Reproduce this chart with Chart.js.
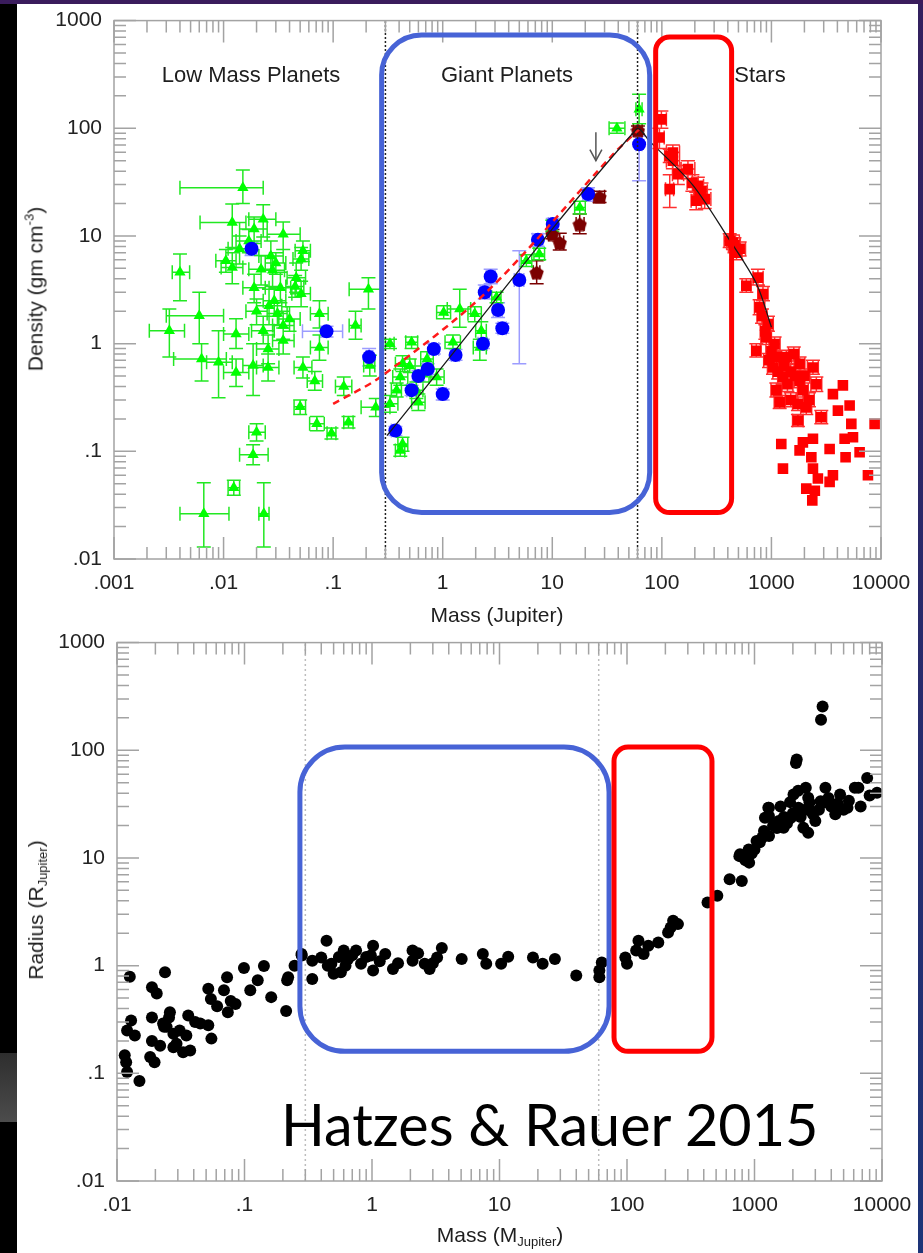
<!DOCTYPE html>
<html lang="en">
<head>
<meta charset="UTF-8" />
<title>Density and radius versus mass</title>
<script src="https://cdn.jsdelivr.net/npm/chart.js@4.4.1/dist/chart.umd.min.js"></script>
<style>
  body { margin: 0; width: 923px; height: 1253px; position: relative; overflow: hidden; background: #fff;
         font-family: 'Liberation Sans', Arial, sans-serif; color: #1e1e1e; }
  .band { position: absolute; }
  canvas { position: absolute; }
  .txt { position: absolute; white-space: nowrap; line-height: 1; transform: translate(-50%, -50%); }
  .rot { transform: translate(-50%, -50%) rotate(-90deg); }
  sub { font-size: 13px; vertical-align: -4px; }
  sup { font-size: 13px; vertical-align: 9px; }
  #credit { position: absolute; left: 281px; top: 1095px; font-family: Lato, 'Open Sans', sans-serif;
            font-size: 57.5px; line-height: 57px; color: #000; white-space: nowrap; }
</style>
</head>
<body>
  <div class="band" style="left:0;top:0;width:923px;height:4px;background:#3a1c5c"></div>
  <div class="band" style="left:0;top:4px;width:17px;height:1249px;background:#000"></div>
  <div class="band" style="left:0;top:1053px;width:17px;height:69px;background:linear-gradient(#2e2e2e,#4c4c4c)"></div>
  <div class="band" style="left:918px;top:4px;width:5px;height:1249px;background:linear-gradient(#33205e,#1d3478)"></div>

  <canvas id="topChart" width="906" height="630" style="left:17px;top:-4px"></canvas>
  <canvas id="botChart" width="907" height="635" style="left:17px;top:618px"></canvas>

  <div class="txt" style="left:251px;top:75px;font-size:22px">Low Mass Planets</div>
  <div class="txt" style="left:507px;top:75px;font-size:22px">Giant Planets</div>
  <div class="txt" style="left:760px;top:75px;font-size:22px">Stars</div>
  <div class="txt" style="left:497px;top:614px;font-size:21px">Mass (Jupiter)</div>
  <div class="txt rot" style="left:34px;top:289px;font-size:21px">Density (gm cm<sup>-3</sup>)</div>
  <div class="txt" style="left:500px;top:1236px;font-size:21px">Mass (M<sub>Jupiter</sub>)</div>
  <div class="txt rot" style="left:37px;top:910px;font-size:21px">Radius (R<sub>Jupiter</sub>)</div>
  <div id="credit">Hatzes &amp; Rauer 2015</div>

<script>
  // ---- axes ----
  const topMassRange = [0.001, 10000];
  const densityRange = [0.01, 1000];
  const botMassRange = [0.01, 10000];
  const radiusRange = [0.01, 1000];
  const topMassTicks = ['.001', '.01', '.1', '1', '10', '100', '1000', '10000'];
  const densityTicks = ['.01', '.1', '1', '10', '100', '1000'];
  const botMassTicks = ['.01', '.1', '1', '10', '100', '1000', '10000'];
  const radiusTicks = ['.01', '.1', '1', '10', '100', '1000'];

  // planet / brown dwarf / star boundaries (Jupiter masses)
  const boundaryMass = [0.3, 60];

  // ---- top panel: density vs mass  [x, y, xLo, xHi, yLo, yHi] ----
  const greenPts = [
    [0.015, 28, 0.004, 0.023, 20, 41], [0.012, 13.3, 0.0061, 0.016, 7.8, 19.8],
    [0.023, 14.3, 0.017, 0.03, 9.8, 19.5], [0.019, 11.6, 0.014, 0.025, 8.5, 15],
    [0.035, 10.4, 0.025, 0.05, 7.5, 13.5], [0.014, 7.6, 0.011, 0.018, 5.5, 10],
    [0.0105, 5.9, 0.0085, 0.013, 4.6, 7.5], [0.012, 5.1, 0.0095, 0.015, 3.6, 7],
    [0.027, 6.5, 0.021, 0.035, 4.8, 9], [0.053, 7.3, 0.045, 0.062, 5.8, 9],
    [0.051, 6.1, 0.043, 0.06, 4.8, 7.8], [0.022, 4.9, 0.017, 0.028, 3.5, 6.6],
    [0.028, 4.8, 0.022, 0.036, 3.4, 6.5], [0.046, 4.1, 0.038, 0.056, 3, 5.6],
    [0.004, 4.6, 0.0034, 0.0049, 2.5, 6.8], [0.019, 3.3, 0.015, 0.024, 2.4, 4.4],
    [0.033, 3.3, 0.026, 0.041, 2.4, 4.6], [0.051, 2.9, 0.042, 0.062, 2.2, 3.8],
    [0.029, 2.5, 0.023, 0.037, 1.8, 3.4], [0.026, 2.25, 0.02, 0.034, 1.5, 3.2],
    [0.075, 1.89, 0.062, 0.09, 1.4, 2.5], [0.006, 1.82, 0.003, 0.01, 1, 3],
    [0.0032, 1.32, 0.0021, 0.0044, 0.75, 2.1], [0.013, 1.23, 0.01, 0.017, 0.9, 1.7],
    [0.023, 1.32, 0.018, 0.029, 1, 1.8], [0.035, 1.47, 0.028, 0.044, 1.1, 2],
    [0.04, 1.69, 0.032, 0.05, 1.3, 2.2], [0.035, 1.07, 0.028, 0.044, 0.8, 1.4],
    [0.0255, 0.89, 0.02, 0.032, 0.65, 1.2], [0.16, 1.47, 0.14, 0.18, 1.1, 2],
    [0.21, 3.2, 0.14, 0.285, 2.1, 4.1], [0.216, 0.625, 0.19, 0.24, 0.5, 0.78],
    [0.075, 0.92, 0.062, 0.09, 0.7, 1.2], [0.0063, 0.72, 0.0035, 0.0106, 0.45, 1],
    [0.009, 0.67, 0.007, 0.012, 0.315, 1.32], [0.013, 0.54, 0.01, 0.017, 0.4, 0.72],
    [0.0186, 0.625, 0.015, 0.023, 0.33, 1], [0.0255, 0.6, 0.02, 0.032, 0.45, 0.8],
    [0.053, 0.6, 0.044, 0.064, 0.48, 0.75], [0.068, 0.45, 0.058, 0.08, 0.37, 0.55],
    [0.125, 0.4, 0.105, 0.148, 0.33, 0.49], [0.05, 0.26, 0.044, 0.056, 0.22, 0.3],
    [0.071, 0.18, 0.061, 0.083, 0.155, 0.21], [0.0965, 0.147, 0.088, 0.106, 0.13, 0.165],
    [0.138, 0.186, 0.125, 0.152, 0.165, 0.21], [0.245, 0.256, 0.18, 0.33, 0.21, 0.31],
    [0.02, 0.15, 0.017, 0.024, 0.125, 0.18], [0.0186, 0.093, 0.014, 0.0255, 0.075, 0.115],
    [0.0124, 0.046, 0.011, 0.014, 0.039, 0.054], [0.0066, 0.0263, 0.004, 0.0112, 0.0129, 0.051],
    [0.0233, 0.0263, 0.021, 0.026, 0.0129, 0.051], [0.02, 2.0, 0.016, 0.025, 1.5, 2.6],
    [0.031, 1.9, 0.025, 0.038, 1.5, 2.4], [0.017, 9.0, 0.013, 0.022, 7, 11.5],
    [0.045, 3.4, 0.037, 0.054, 2.7, 4.3], [0.03, 5.6, 0.024, 0.037, 4.4, 7],
    [38.9, 100, 33, 46, 90, 112], [62, 150, 58, 66, 110, 207],
    [17.8, 18.4, 16, 20, 16, 21], [10, 12.4, 9, 11, 11, 14],
    [7.6, 6.8, 6.8, 8.5, 6, 7.7], [5.8, 5.9, 5.2, 6.5, 5.2, 6.7],
    [3.1, 2.69, 2.8, 3.4, 2.4, 3], [1.43, 2.1, 1.1, 1.8, 1.42, 3.2],
    [1.02, 1.95, 0.88, 1.18, 1.7, 2.25], [1.96, 1.89, 1.7, 2.25, 1.6, 2.2],
    [2.25, 1.32, 2, 2.5, 1.1, 1.6], [2.18, 0.92, 1.9, 2.5, 0.7, 1.1],
    [1.24, 1.03, 1.05, 1.45, 0.9, 1.2], [0.52, 1.03, 0.46, 0.59, 0.9, 1.15],
    [0.33, 1, 0.3, 0.36, 0.9, 1.1], [0.43, 0.65, 0.37, 0.5, 0.55, 0.77],
    [0.66, 0.52, 0.56, 0.78, 0.44, 0.62], [0.41, 0.49, 0.35, 0.48, 0.41, 0.58],
    [0.88, 0.49, 0.75, 1.03, 0.41, 0.58], [0.575, 0.37, 0.5, 0.66, 0.31, 0.44],
    [0.33, 0.276, 0.28, 0.39, 0.23, 0.33], [0.6, 0.285, 0.52, 0.69, 0.24, 0.34],
    [0.43, 0.117, 0.39, 0.48, 0.1, 0.135], [0.41, 0.102, 0.37, 0.45, 0.09, 0.115],
    [0.5, 0.62, 0.45, 0.56, 0.54, 0.72], [0.72, 0.72, 0.63, 0.82, 0.62, 0.84],
    [0.38, 0.37, 0.34, 0.42, 0.32, 0.43]
  ];
  const bluePts = [
    [0.018, 7.6, 0.016, 0.02, 6.6, 8.8], [0.087, 1.3, 0.0525, 0.122, 1.15, 1.45],
    [0.213, 0.75, 0.2, 0.23, 0.62, 0.9], [62, 71, 58, 66, 32.5, 85],
    [21.2, 24.5, 19, 23.5, 21, 28], [10.1, 12.9, 9.2, 11, 11.5, 14.5],
    [7.4, 9.2, 6.6, 8.2, 8, 10.5], [5, 3.9, 4.5, 5.5, 0.65, 7.3],
    [2.74, 4.2, 2.5, 3, 3.6, 4.9], [2.42, 3, 2.2, 2.65, 2.6, 3.5],
    [3.2, 2.05, 2.9, 3.5, 1.75, 2.4], [3.5, 1.39, 3.2, 3.8, 1.25, 1.55],
    [0.83, 0.89, 0.75, 0.92, 0.8, 1], [1.31, 0.785, 1.2, 1.42, 0.7, 0.88],
    [0.73, 0.58, 0.66, 0.8, 0.52, 0.65], [0.52, 0.37, 0.47, 0.57, 0.33, 0.41],
    [1, 0.34, 0.92, 1.08, 0.3, 0.38], [0.37, 0.156, 0.34, 0.4, 0.14, 0.17],
    [2.33, 1, 2.1, 2.55, 0.9, 1.1], [0.6, 0.5, 0.55, 0.66, 0.45, 0.56]
  ];
  const maroonPts = [
    [60.5, 96, 55, 66, 88, 105], [27, 23.1, 24, 30, 20.5, 26],
    [17.8, 12.9, 16.5, 19.5, 10.5, 16], [11.7, 8.7, 10.8, 12.7, 7.4, 10.6],
    [10, 10.4, 9.3, 10.8, 9.4, 11.5], [7.2, 4.6, 6.7, 7.7, 3.6, 5.9]
  ];
  const starPts = [
    [99, 121, 90, 110, 100, 145], [95, 82, 88, 105, 65, 100], [126, 59.5, 110, 145, 50, 70],
    [118, 55.5, 106, 132, 48, 64], [126, 50, 110, 145, 42, 60], [173, 41.8, 150, 200, 34, 50],
    [118, 27.2, 108, 128, 18.4, 37], [140, 37.5, 125, 158, 30, 45], [213, 29.2, 190, 240, 24, 35],
    [221, 24.5, 195, 250, 20, 29], [246, 22, 215, 280, 18, 27], [206, 21.2, 185, 230, 17.5, 25.5],
    [230, 26, 205, 260, 22, 31], [190, 31, 170, 215, 26, 37], [445, 8.7, 390, 510, 7.5, 10.2],
    [513, 7.6, 450, 580, 6.5, 8.8], [416, 9, 370, 470, 7.8, 10.5], [460, 8.2, 405, 520, 7, 9.6],
    [480, 7, 425, 540, 6, 8.2], [753, 4.1, 680, 840, 3.5, 4.9], [590, 3.45, 540, 650, 3, 4],
    [837, 2.89, 750, 930, 2.5, 3.4], [780, 2.17, 700, 870, 1.85, 2.55], [820, 1.8, 740, 910, 1.55, 2.1],
    [929, 1.52, 830, 1040, 1.3, 1.8], [880, 1.3, 790, 980, 1.1, 1.5], [898, 1.14, 800, 1000, 0.98, 1.33],
    [728, 0.86, 660, 800, 0.75, 1], [1069, 0.99, 950, 1200, 0.85, 1.15], [1000, 0.85, 890, 1120, 0.73, 0.98],
    [950, 0.7, 850, 1060, 0.6, 0.81], [1109, 0.75, 990, 1240, 0.65, 0.87], [1033, 0.6, 920, 1160, 0.52, 0.7],
    [1368, 0.75, 1220, 1530, 0.65, 0.87], [1300, 0.62, 1160, 1460, 0.54, 0.72], [1150, 0.55, 1030, 1290, 0.47, 0.64],
    [1274, 0.49, 1140, 1420, 0.42, 0.57], [1500, 0.55, 1340, 1680, 0.47, 0.64], [1650, 0.5, 1470, 1850, 0.43, 0.58],
    [1600, 0.8, 1430, 1790, 0.69, 0.93], [1400, 0.42, 1250, 1570, 0.36, 0.49], [1109, 0.37, 990, 1240, 0.32, 0.43],
    [1189, 0.285, 1060, 1330, 0.25, 0.33], [1500, 0.3, 1340, 1680, 0.26, 0.35], [1807, 0.65, 1610, 2020, 0.56, 0.75],
    [2393, 0.6, 2130, 2680, 0.52, 0.7], [1807, 0.45, 1610, 2020, 0.39, 0.52], [2000, 0.5, 1790, 2240, 0.43, 0.58],
    [1937, 0.37, 1730, 2170, 0.32, 0.43], [2570, 0.42, 2290, 2880, 0.36, 0.49], [2200, 0.3, 1960, 2460, 0.26, 0.35],
    [1745, 0.276, 1560, 1950, 0.24, 0.32], [2080, 0.256, 1850, 2330, 0.22, 0.3], [2852, 0.207, 2540, 3190, 0.18, 0.24],
    [1745, 0.193, 1560, 1950, 0.17, 0.22],
    [3641, 0.34], [4490, 0.41], [4045, 0.239], [5172, 0.266], [5360, 0.18], [5550, 0.135],
    [4656, 0.131], [6380, 0.098], [4750, 0.088], [8745, 0.18], [7600, 0.06], [1230, 0.117],
    [1274, 0.069], [1937, 0.121], [1807, 0.102], [2393, 0.131], [2313, 0.088], [2393, 0.069],
    [2655, 0.056], [2080, 0.045], [2490, 0.043], [2360, 0.035], [3397, 0.105], [3641, 0.06], [3397, 0.052]
  ];
  // fitted relations
  const fitPts = [[0.31, 0.14], [58.5, 98], [77, 76], [190, 30], [400, 9.7], [730, 3.6], [1000, 1.42]];
  const dashPts = [[0.1, 0.276], [0.27, 0.49], [2.5, 3.0], [36, 57.5], [62, 98]];
  const arrowPts = [[25, 92], [25, 50]];

  // ---- bottom panel: radius vs mass ----
  const radiusPts = [
    [0.0126, 0.79], [0.0238, 0.87], [0.0188, 0.63], [0.0205, 0.55], [0.052, 0.61], [0.0545, 0.49],
    [0.073, 0.78], [0.069, 0.59], [0.099, 0.95], [0.142, 0.99], [0.127, 0.73], [0.111, 0.59],
    [0.078, 0.47], [0.085, 0.44], [0.074, 0.37], [0.162, 0.51], [0.216, 0.73], [0.22, 0.78],
    [0.212, 0.38], [0.247, 1.0], [0.281, 1.24], [0.026, 0.37], [0.0362, 0.344], [0.041, 0.3],
    [0.052, 0.28], [0.055, 0.21], [0.0277, 0.233], [0.031, 0.25], [0.035, 0.225], [0.0245, 0.27],
    [0.023, 0.29], [0.0188, 0.2], [0.0218, 0.18], [0.0277, 0.175], [0.033, 0.157], [0.0375, 0.163],
    [0.0182, 0.142], [0.0197, 0.127], [0.0129, 0.31], [0.0138, 0.225], [0.012, 0.25], [0.0115, 0.147],
    [0.0118, 0.127], [0.012, 0.103], [0.015, 0.085], [0.0188, 0.33], [0.0256, 0.33], [0.0234, 0.27],
    [0.045, 0.29], [0.061, 0.42], [0.0293, 0.188],
    [0.44, 1.7], [0.34, 1.11], [0.34, 0.75], [0.4, 1.19], [0.48, 1.04], [0.5, 0.84], [0.57, 0.87],
    [0.6, 1.38], [0.75, 1.38], [0.82, 1.04], [1.02, 1.53], [0.98, 1.24], [1.02, 0.9], [1.27, 1.28],
    [1.46, 0.93], [2.08, 1.38], [2.08, 1.11], [2.59, 1.04], [2.83, 0.93], [3.53, 1.46], [3.24, 1.19],
    [5.05, 1.15], [7.4, 1.28], [7.87, 1.04], [10.3, 1.04], [11.7, 1.21], [18.3, 1.19], [21.8, 1.04],
    [27.2, 1.15], [40, 0.81], [60.7, 0.9], [63.4, 1.07], [60.7, 0.78], [0.28, 1.28], [0.55, 1.2],
    [0.65, 1.15], [0.7, 1.25], [0.9, 1.2], [1.15, 1.1], [0.62, 1.0], [0.45, 1.0], [1.6, 1.05],
    [2.3, 1.3], [3.0, 1.05],
    [97, 1.19], [100, 1.04], [118, 1.38], [123, 1.7], [135, 1.28], [147, 1.53], [176, 1.64],
    [220, 2.26], [230, 2.61], [251, 2.43], [210, 2.03], [428, 3.86], [511, 4.45], [638, 6.35],
    [795, 6.1], [761, 10.4], [908, 9.05], [1038, 14.4], [1187, 17.8], [1298, 29.2], [1298, 24.5],
    [1549, 22.0], [1692, 19.1], [1933, 23.6], [2023, 38.9], [2525, 44.8], [2638, 36.2], [2210, 29.2],
    [2415, 19.1], [2638, 17.1], [2882, 25.4], [3445, 32.5], [3600, 44.8], [4300, 25.4], [4690, 38.9],
    [5360, 29.2], [6120, 44.8], [7650, 55.4], [9140, 40.3], [2113, 76], [3420, 255], [3325, 192],
    [2143, 82], [6530, 44.8], [3300, 33.7], [1283, 29.2], [1208, 23.6], [770, 10.8], [900, 12],
    [1100, 14], [1300, 16], [1500, 19], [1800, 21], [2000, 26], [2300, 24], [2800, 27], [3200, 28],
    [4000, 30], [4500, 32], [5000, 28], [1600, 30], [1900, 33], [2500, 28], [3000, 22], [1400, 20],
    [1000, 12], [850, 9.5], [950, 11], [1150, 15.5], [1700, 24], [2200, 42], [2700, 33], [3800, 36],
    [5500, 34], [6800, 30], [8000, 38]
  ];

  // highlight boxes drawn over the panels, in axis units
  const topBoxes = [
    { x0: 0.277, x1: 77.4, y0: 0.027, y1: 735, color: '#4763d6', width: 5, radius: 40 },
    { x0: 87.8, x1: 433, y0: 0.027, y1: 704, color: '#ff0000', width: 5, radius: 14 }
  ];
  const botBoxes = [
    { x0: 0.272, x1: 72.3, y0: 0.16, y1: 107, color: '#4763d6', width: 5, radius: 45 },
    { x0: 79.1, x1: 464, y0: 0.16, y1: 107, color: '#ff0000', width: 5, radius: 14 }
  ];

  Chart.defaults.font.family = "'Liberation Sans', Arial, sans-serif";

  const toPts = (arr) => arr.map(p => p.length > 2
    ? { x: p[0], y: p[1], xMin: p[2], xMax: p[3], yMin: p[4], yMax: p[5] }
    : { x: p[0], y: p[1] });

  function pentagon(size, color) {
    const c = document.createElement('canvas');
    c.width = c.height = size;
    const g = c.getContext('2d');
    g.fillStyle = color;
    g.beginPath();
    for (let i = 0; i < 5; i++) {
      const a = -Math.PI / 2 + i * 2 * Math.PI / 5;
      g.lineTo(size / 2 + size / 2 * Math.cos(a), size / 2 + 1 + size / 2 * Math.sin(a));
    }
    g.closePath();
    g.fill();
    return c;
  }

  function pointSet(arr, style, radius, color, errColor, cap) {
    return { data: toPts(arr), pointStyle: style, pointRadius: radius, backgroundColor: color,
             borderWidth: 0, borderColor: color, errColor, capSize: cap };
  }
  function lineSet(arr, color, width, dash, tension) {
    return { data: toPts(arr), showLine: true, pointRadius: 0, borderColor: color, borderWidth: width,
             borderDash: dash, tension: tension || 0, backgroundColor: color };
  }
  function vLine(x, range, color, width, dash) {
    return lineSet([[x, range[0]], [x, range[1]]], color, width, dash);
  }

  function logAxis(range, labels, fitProp, fitSize, pad) {
    const firstExp = Math.round(Math.log10(range[0]));
    return {
      type: 'logarithmic', min: range[0], max: range[1],
      grid: { display: false, drawTicks: false },
      border: { display: false },
      ticks: {
        autoSkip: false, maxRotation: 0, minRotation: 0, padding: pad, color: '#222',
        font: { size: 21 },
        callback: (v) => {
          const e = Math.log10(v), r = Math.round(e);
          return Math.abs(e - r) < 1e-6 ? (labels[r - firstExp] || '') : '';
        }
      },
      afterFit: (s) => { s[fitProp] = fitSize; }
    };
  }

  const errorBars = {
    id: 'errorBars',
    beforeDatasetsDraw(chart) {
      const { ctx, chartArea: a, scales: { x, y } } = chart;
      ctx.save();
      ctx.beginPath();
      ctx.rect(a.left, a.top, a.right - a.left, a.bottom - a.top);
      ctx.clip();
      chart.data.datasets.forEach(ds => {
        if (!ds.errColor) return;
        const cap = ds.capSize;
        ctx.strokeStyle = ds.errColor;
        ctx.lineWidth = 1.5;
        ctx.beginPath();
        ds.data.forEach(p => {
          if (p.xMin == null) return;
          const cx = x.getPixelForValue(p.x), cy = y.getPixelForValue(p.y);
          const x0 = x.getPixelForValue(p.xMin), x1 = x.getPixelForValue(p.xMax);
          const y0 = y.getPixelForValue(p.yMin), y1 = y.getPixelForValue(p.yMax);
          ctx.moveTo(x0, cy); ctx.lineTo(x1, cy);
          ctx.moveTo(x0, cy - cap); ctx.lineTo(x0, cy + cap);
          ctx.moveTo(x1, cy - cap); ctx.lineTo(x1, cy + cap);
          ctx.moveTo(cx, y0); ctx.lineTo(cx, y1);
          ctx.moveTo(cx - cap, y0); ctx.lineTo(cx + cap, y0);
          ctx.moveTo(cx - cap, y1); ctx.lineTo(cx + cap, y1);
        });
        ctx.stroke();
      });
      ctx.restore();
    }
  };

  // gray frame with inward log ticks on all four sides
  const frame = {
    id: 'frame',
    afterDatasetsDraw(chart) {
      const { ctx, chartArea: a, scales: { x, y } } = chart;
      const each = (scale, fn) => {
        const e0 = Math.floor(Math.log10(scale.min)), e1 = Math.ceil(Math.log10(scale.max));
        for (let e = e0; e <= e1; e++) {
          for (let k = 1; k <= 9; k++) {
            const v = k * Math.pow(10, e);
            if (v < scale.min * 0.999 || v > scale.max * 1.001) continue;
            fn(scale.getPixelForValue(v), k === 1 ? 22 : 12);
          }
        }
      };
      ctx.save();
      ctx.strokeStyle = '#a3a3a3';
      ctx.lineWidth = 1.5;
      ctx.strokeRect(a.left, a.top, a.right - a.left, a.bottom - a.top);
      ctx.beginPath();
      each(x, (px, len) => {
        ctx.moveTo(px, a.bottom); ctx.lineTo(px, a.bottom - len);
        ctx.moveTo(px, a.top); ctx.lineTo(px, a.top + len);
      });
      each(y, (py, len) => {
        ctx.moveTo(a.left, py); ctx.lineTo(a.left + len, py);
        ctx.moveTo(a.right, py); ctx.lineTo(a.right - len, py);
      });
      ctx.stroke();
      ctx.restore();
    }
  };

  const boxPlugin = (items) => ({
    id: 'boxes',
    afterDatasetsDraw(chart) {
      const { ctx, scales: { x, y } } = chart;
      items.forEach(b => {
        const l = x.getPixelForValue(b.x0), r = x.getPixelForValue(b.x1);
        const t = y.getPixelForValue(b.y1), btm = y.getPixelForValue(b.y0);
        ctx.save();
        ctx.strokeStyle = b.color;
        ctx.lineWidth = b.width;
        ctx.beginPath();
        ctx.roundRect(l, t, r - l, btm - t, b.radius);
        ctx.stroke();
        ctx.restore();
      });
    }
  });

  const arrowHead = (index) => ({
    id: 'arrowHead',
    afterDatasetsDraw(chart) {
      const pts = chart.getDatasetMeta(index).data;
      const tip = pts[pts.length - 1];
      const ctx = chart.ctx;
      ctx.save();
      ctx.strokeStyle = '#555';
      ctx.lineWidth = 1.5;
      ctx.beginPath();
      ctx.moveTo(tip.x - 6, tip.y - 11); ctx.lineTo(tip.x, tip.y); ctx.lineTo(tip.x + 6, tip.y - 11);
      ctx.stroke();
      ctx.restore();
    }
  });

  const baseOptions = (xAxis, yAxis, pad) => ({
    responsive: false, animation: false, devicePixelRatio: 1,
    layout: { padding: pad },
    plugins: { legend: { display: false }, tooltip: { enabled: false } },
    scales: { x: xAxis, y: yAxis }
  });

  // chart area lands at x 114..881, y 20..559 on the page
  new Chart(document.getElementById('topChart'), {
    type: 'scatter',
    data: {
      datasets: [
        lineSet(fitPts, '#1a1a1a', 1.3, [], 0.3),
        lineSet(dashPts, '#ff1a1a', 2.5, [7, 5], 0.3),
        lineSet(arrowPts, '#555', 1.5, []),
        vLine(boundaryMass[0], densityRange, '#222', 1.5, [2, 2]),
        vLine(boundaryMass[1], densityRange, '#222', 1.5, [2, 2]),
        pointSet(bluePts, 'circle', 7, '#0000ff', '#9c9cff', 7),
        pointSet(maroonPts, pentagon(15, '#7b0000'), 7, '#7b0000', '#7b0000', 7),
        pointSet(greenPts, 'triangle', 6.5, '#00ff00', '#22e822', 7),
        pointSet(starPts, 'rect', 7.5, '#ff0000', '#ff3030', 7)
      ]
    },
    options: baseOptions(
      logAxis(topMassRange, topMassTicks, 'height', 67, 12),
      logAxis(densityRange, densityTicks, 'width', 97, 12),
      { left: 0, right: 42, top: 24, bottom: 0 }
    ),
    plugins: [errorBars, frame, boxPlugin(topBoxes), arrowHead(2)]
  });

  // chart area lands at x 117..882, y 642..1181 on the page
  new Chart(document.getElementById('botChart'), {
    type: 'scatter',
    data: {
      datasets: [
        pointSet(radiusPts, 'circle', 6, '#000', null, 0),
        vLine(boundaryMass[0], radiusRange, '#bdbdbd', 1.5, [2, 3]),
        vLine(boundaryMass[1], radiusRange, '#bdbdbd', 1.5, [2, 3])
      ]
    },
    options: baseOptions(
      logAxis(botMassRange, botMassTicks, 'height', 72, 12),
      logAxis(radiusRange, radiusTicks, 'width', 100, 12),
      { left: 0, right: 42, top: 24, bottom: 0 }
    ),
    plugins: [frame, boxPlugin(botBoxes)]
  });
</script>
</body>
</html>
